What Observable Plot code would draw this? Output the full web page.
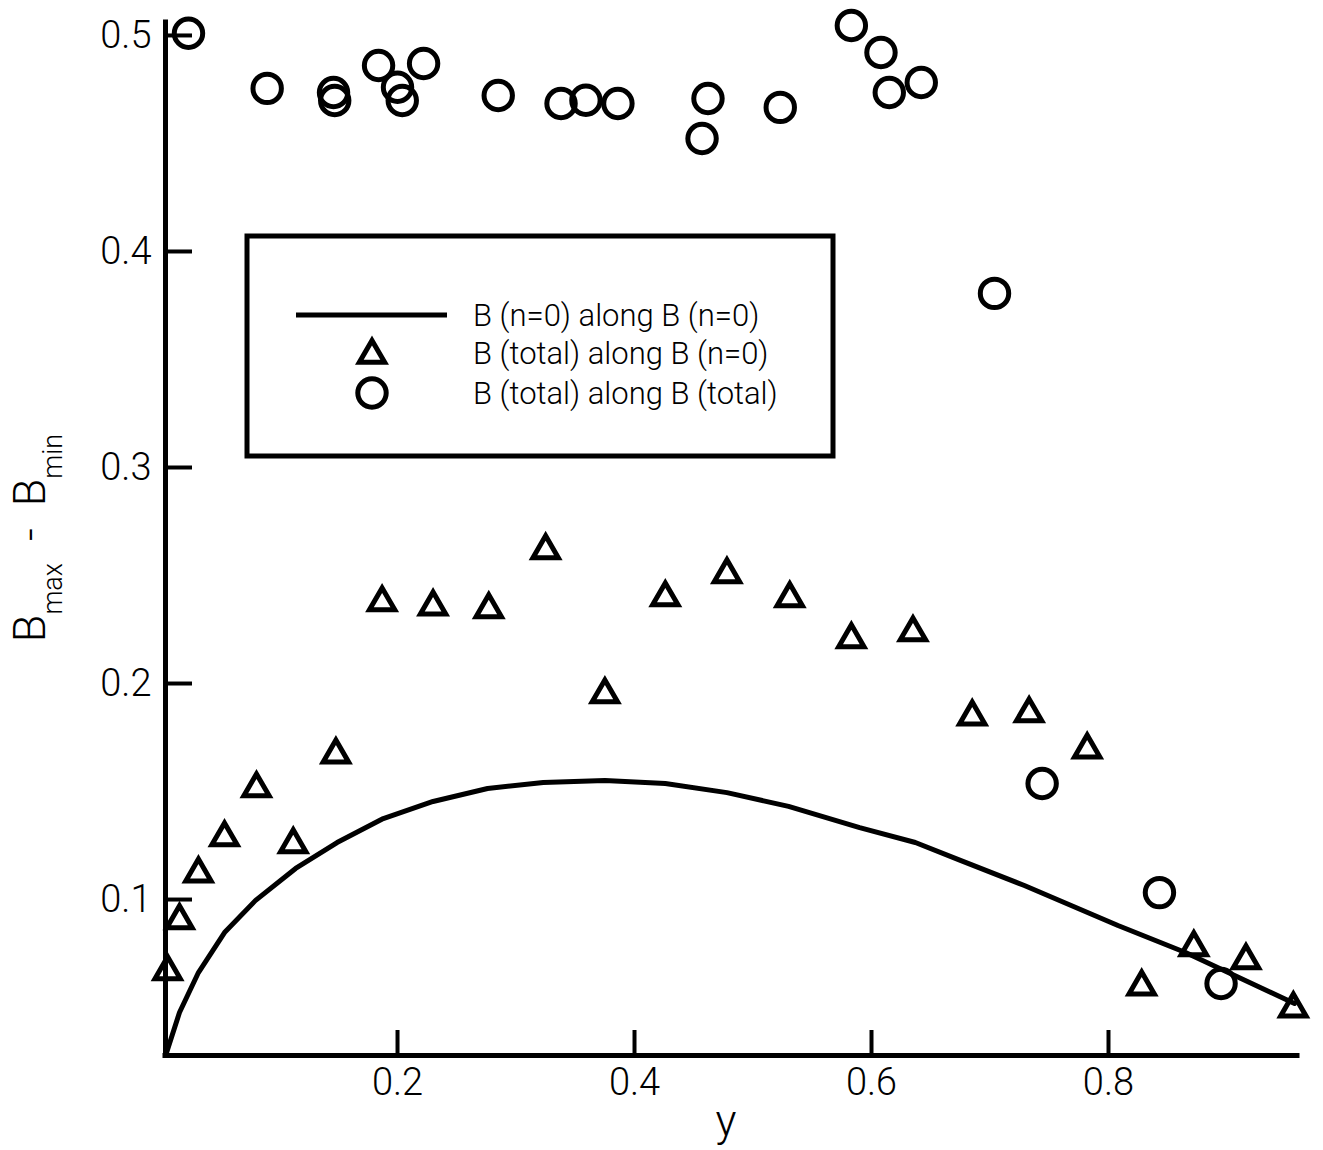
<!DOCTYPE html>
<html>
<head>
<meta charset="utf-8">
<script src="https://cdn.jsdelivr.net/npm/d3@7"></script>
<script src="https://cdn.jsdelivr.net/npm/@observablehq/plot@0.6"></script>
<style>
  html, body { margin: 0; padding: 0; background: #fff; }
  #chart { width: 1323px; height: 1150px; }
</style>
</head>
<body>
<div id="chart"></div>
<script>
// B(n=0) along B(n=0): continuous profile
const lineX = [0.005, 0.016, 0.032, 0.054, 0.080, 0.114, 0.149, 0.188, 0.230, 0.276, 0.323, 0.375,
               0.426, 0.478, 0.530, 0.590, 0.637, 0.675, 0.729, 0.808, 0.865, 0.957];
const lineY = [0.029, 0.0477, 0.0662, 0.0847, 0.0995, 0.1144, 0.1264, 0.1375, 0.1454, 0.1514, 0.1542, 0.1551,
               0.1537, 0.1495, 0.1431, 0.1333, 0.1264, 0.1181, 0.1065, 0.0880, 0.0755, 0.0519];

// B(total) along B(n=0): triangles
const triX = [0.006, 0.016, 0.032, 0.054, 0.081, 0.112, 0.148, 0.187, 0.230, 0.277, 0.325, 0.375,
              0.426, 0.478, 0.531, 0.583, 0.635, 0.685, 0.733, 0.782, 0.828, 0.872, 0.916, 0.956];
const triY = [0.0667, 0.0903, 0.112, 0.1287, 0.1514, 0.1255, 0.1671, 0.2375, 0.2356, 0.2343, 0.2616, 0.1949,
              0.2398, 0.2505, 0.2394, 0.2204, 0.2236, 0.1847, 0.1861, 0.1694, 0.0597, 0.0778, 0.0718, 0.0495];

// B(total) along B(total): circles
const circX = [0.0236, 0.090, 0.146, 0.147, 0.184, 0.200, 0.204, 0.222, 0.285, 0.338, 0.359, 0.386,
               0.457, 0.462, 0.523, 0.583, 0.608, 0.615, 0.642, 0.7038, 0.744, 0.843, 0.895];
const circY = [0.501, 0.4755, 0.4736, 0.4699, 0.4861, 0.476, 0.4699, 0.487, 0.4722, 0.4685, 0.470, 0.4685,
               0.4523, 0.4708, 0.4667, 0.5046, 0.4921, 0.4736, 0.4782, 0.3806, 0.1537, 0.1032, 0.0611];

const xTicks = [0.2, 0.4, 0.6, 0.8];
const yTicks = [0.1, 0.2, 0.3, 0.4, 0.5];

const seriesNames = ["B (n=0) along B (n=0)", "B (total) along B (n=0)", "B (total) along B (total)"];

const W = 1323, H = 1150;
const mL = 165, mR = 26, mT = 22, mB = 95;
const plotW = W - mL - mR, plotH = H - mT - mB;
const xDomain = [0.0042, 0.9595];
const yDomain = [0.0278, 0.506];
const FONT = "Roboto, 'Open Sans', sans-serif";
const SW = 5;
const TRI_R = 9.4;
const CIRC_R = 14.2;

const lineData = lineX.map((x, i) => ({x, y: lineY[i]}));
const triData = triX.map((x, i) => ({x, y: triY[i]}));
const circData = circX.map((x, i) => ({x, y: circY[i]}));

const chart = Plot.plot({
  width: W,
  height: H,
  marginLeft: mL,
  marginRight: mR,
  marginTop: mT,
  marginBottom: mB,
  style: {fontFamily: FONT, background: "white", color: "black", fontWeight: 300},
  x: {domain: xDomain},
  y: {domain: yDomain},
  marks: [
    Plot.axisX({ticks: xTicks, tickSize: 0, tickPadding: 13, fontSize: 38, tickFormat: d => d.toFixed(1), label: null}),
    Plot.axisY({ticks: yTicks, tickSize: 0, tickPadding: 14, fontSize: 38, tickFormat: d => d.toFixed(1), label: null}),
    // inward tick marks
    Plot.tickY(yTicks, {y: d => d, insetRight: plotW - 27, strokeWidth: 4}),
    Plot.tickX(xTicks, {x: d => d, insetTop: plotH - 25, strokeWidth: 4}),
    // axis lines
    Plot.ruleX([xDomain[0]], {strokeWidth: SW, strokeLinecap: "square"}),
    Plot.ruleY([yDomain[0]], {strokeWidth: SW, strokeLinecap: "square"}),
    Plot.line(lineData, {x: "x", y: "y", stroke: "black", strokeWidth: SW}),
    Plot.dot(triData, {x: "x", y: "y", symbol: "triangle", r: TRI_R, stroke: "black", strokeWidth: SW, fill: "none"}),
    Plot.dot(circData, {x: "x", y: "y", symbol: "circle", r: CIRC_R, stroke: "black", strokeWidth: SW, fill: "none"})
  ]
});

document.getElementById("chart").appendChild(chart);

const svg = d3.select(chart);

// axis titles
svg.append("text")
  .attr("x", 726).attr("y", 1136)
  .attr("text-anchor", "middle")
  .attr("font-family", FONT).attr("font-weight", 300)
  .attr("font-size", 44).attr("fill", "black")
  .text("y");

const yl = svg.append("text")
  .attr("transform", "translate(45,538) rotate(-90)")
  .attr("text-anchor", "middle")
  .attr("font-family", FONT).attr("font-weight", 300)
  .attr("fill", "black")
  .attr("xml:space", "preserve");
yl.append("tspan").attr("font-size", 45).text("B");
yl.append("tspan").attr("font-size", 27).attr("dy", 17).text("max");
yl.append("tspan").attr("font-size", 45).attr("dy", -17).text("  -  ");
yl.append("tspan").attr("font-size", 45).text("B");
yl.append("tspan").attr("font-size", 27).attr("dy", 17).text("min");

// legend box
const lg = svg.append("g");
lg.append("rect")
  .attr("x", 247).attr("y", 236).attr("width", 586).attr("height", 220)
  .attr("fill", "none").attr("stroke", "black").attr("stroke-width", SW);
const rows = [315, 353, 393];
lg.append("line")
  .attr("x1", 296).attr("x2", 447).attr("y1", rows[0]).attr("y2", rows[0])
  .attr("stroke", "black").attr("stroke-width", SW);
lg.append("path")
  .attr("transform", `translate(372,${rows[1] + 2})`)
  .attr("d", d3.symbol(d3.symbolTriangle, TRI_R * TRI_R * Math.PI)())
  .attr("fill", "none").attr("stroke", "black").attr("stroke-width", SW);
lg.append("circle")
  .attr("cx", 372).attr("cy", rows[2]).attr("r", CIRC_R)
  .attr("fill", "none").attr("stroke", "black").attr("stroke-width", SW);
seriesNames.forEach((name, i) => {
  lg.append("text")
    .attr("x", 473).attr("y", rows[i])
    .attr("dy", "0.36em")
    .attr("text-anchor", "start")
    .attr("font-family", FONT).attr("font-weight", 300)
    .attr("font-size", 31).attr("fill", "black")
    .text(name);
});
</script>
</body>
</html>
